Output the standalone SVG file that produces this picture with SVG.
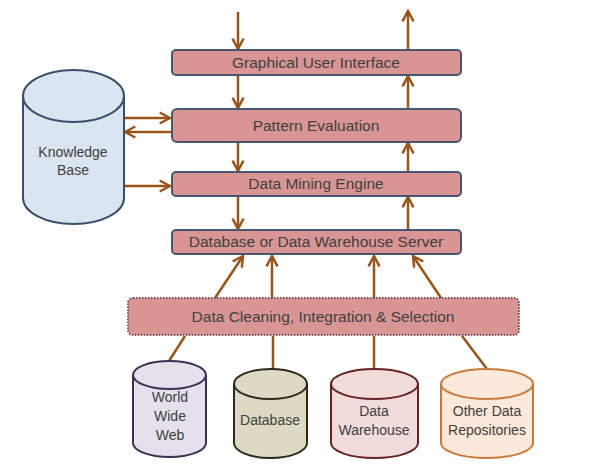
<svg xmlns="http://www.w3.org/2000/svg" width="599" height="471" viewBox="0 0 599 471">
<defs>
<marker id="ah" viewBox="0 0 10 10" refX="8.5" refY="5" markerWidth="5.5" markerHeight="5.5" markerUnits="strokeWidth" orient="auto">
<path d="M1,1 L8.5,5 L1,9" fill="none" stroke="#9a5418" stroke-width="1.8"/>
</marker>
</defs>
<style>
.box{fill:#d99594;stroke:#4a5570;stroke-width:2}
.dot{fill:#d99594;stroke:#7a4a55;stroke-width:2;stroke-dasharray:1.5 1.5}
.t{font-family:"Liberation Sans",Arial,sans-serif;font-size:14px;fill:#404040;text-anchor:middle}
.b{font-size:15.5px}
.c{stroke:#9a5418;stroke-width:2.5;fill:none}
.a{marker-end:url(#ah)}
</style>
<rect width="599" height="471" fill="#fff"/>
<g id="connectors">
<line class="c a" x1="238" y1="12" x2="238" y2="49"/>
<line class="c a" x1="408" y1="75" x2="408" y2="11"/>
<line class="c a" x1="238" y1="75" x2="238" y2="108"/>
<line class="c a" x1="408" y1="109" x2="408" y2="76"/>
<line class="c a" x1="238" y1="142" x2="238" y2="171"/>
<line class="c a" x1="408" y1="172" x2="408" y2="143"/>
<line class="c a" x1="238" y1="196" x2="238" y2="229"/>
<line class="c a" x1="408" y1="230" x2="408" y2="197"/>
<line class="c a" x1="124" y1="118" x2="170" y2="118"/>
<line class="c a" x1="172" y1="132" x2="125" y2="132"/>
<line class="c a" x1="124" y1="186" x2="170" y2="186"/>
<line class="c a" x1="215" y1="298" x2="243" y2="256"/>
<line class="c a" x1="272" y1="298" x2="272" y2="256"/>
<line class="c a" x1="374" y1="298" x2="374" y2="256"/>
<line class="c a" x1="441" y1="298" x2="413" y2="256"/>
<line class="c" x1="185" y1="336" x2="169" y2="361"/>
<line class="c" x1="273" y1="336" x2="273" y2="369"/>
<line class="c" x1="374" y1="336" x2="374" y2="368"/>
<line class="c" x1="462" y1="336" x2="487" y2="369"/>
</g>
<g id="gui"><rect class="box" x="172" y="50" width="289" height="25" rx="4"/><text class="t b" x="316" y="68">Graphical User Interface</text></g>
<g id="pattern"><rect class="box" x="172" y="109" width="289" height="33" rx="5"/><text class="t b" x="316" y="131">Pattern Evaluation</text></g>
<g id="mining"><rect class="box" x="172" y="172" width="289" height="24" rx="4"/><text class="t b" x="316" y="189">Data Mining Engine</text></g>
<g id="server"><rect class="box" x="172" y="230" width="289" height="24" rx="4"/><text class="t b" x="316" y="247">Database or Data Warehouse Server</text></g>
<g id="cleaning"><rect class="dot" x="128" y="298" width="391" height="37" rx="5"/><text class="t b" x="323" y="322">Data Cleaning, Integration &amp; Selection</text></g>
<g id="kb">
<path d="M23,96 L23,198 A50.5,26 0 0 0 124,198 L124,96" fill="#dbe5f1" stroke="#3b4e6b" stroke-width="2"/>
<ellipse cx="73.5" cy="96" rx="50.5" ry="26" fill="#dbe5f1" stroke="#3b4e6b" stroke-width="2"/>
<text class="t" x="73" y="157">Knowledge</text><text class="t" x="73" y="175">Base</text>
</g>
<g id="www">
<path d="M133,375 L133,443 A36.5,14 0 0 0 206,443 L206,375" fill="#e5e0ec" stroke="#3f3151" stroke-width="2"/>
<ellipse cx="169.5" cy="375" rx="36.5" ry="14" fill="#e5e0ec" stroke="#3f3151" stroke-width="2"/>
<text class="t" x="170" y="402">World</text><text class="t" x="170" y="421">Wide</text><text class="t" x="170" y="440">Web</text>
</g>
<g id="database">
<path d="M234,384 L234,443 A36.5,15 0 0 0 307,443 L307,384" fill="#ddd9c3" stroke="#2e2a1a" stroke-width="2"/>
<ellipse cx="270.5" cy="384" rx="36.5" ry="15" fill="#ddd9c3" stroke="#2e2a1a" stroke-width="2"/>
<text class="t" x="270" y="425">Database</text>
</g>
<g id="warehouse">
<path d="M331,384 L331,443 A43.5,15 0 0 0 418,443 L418,384" fill="#f2dcdb" stroke="#632423" stroke-width="2"/>
<ellipse cx="374.5" cy="384" rx="43.5" ry="15" fill="#f2dcdb" stroke="#632423" stroke-width="2"/>
<text class="t" x="374" y="416">Data</text><text class="t" x="374" y="435">Warehouse</text>
</g>
<g id="other">
<path d="M441,384 L441,443 A46,15 0 0 0 533,443 L533,384" fill="#fde9d9" stroke="#c87a3a" stroke-width="2"/>
<ellipse cx="487" cy="384" rx="46" ry="15" fill="#fde9d9" stroke="#c87a3a" stroke-width="2"/>
<text class="t" x="487" y="416">Other Data</text><text class="t" x="487" y="435">Repositories</text>
</g>
</svg>
